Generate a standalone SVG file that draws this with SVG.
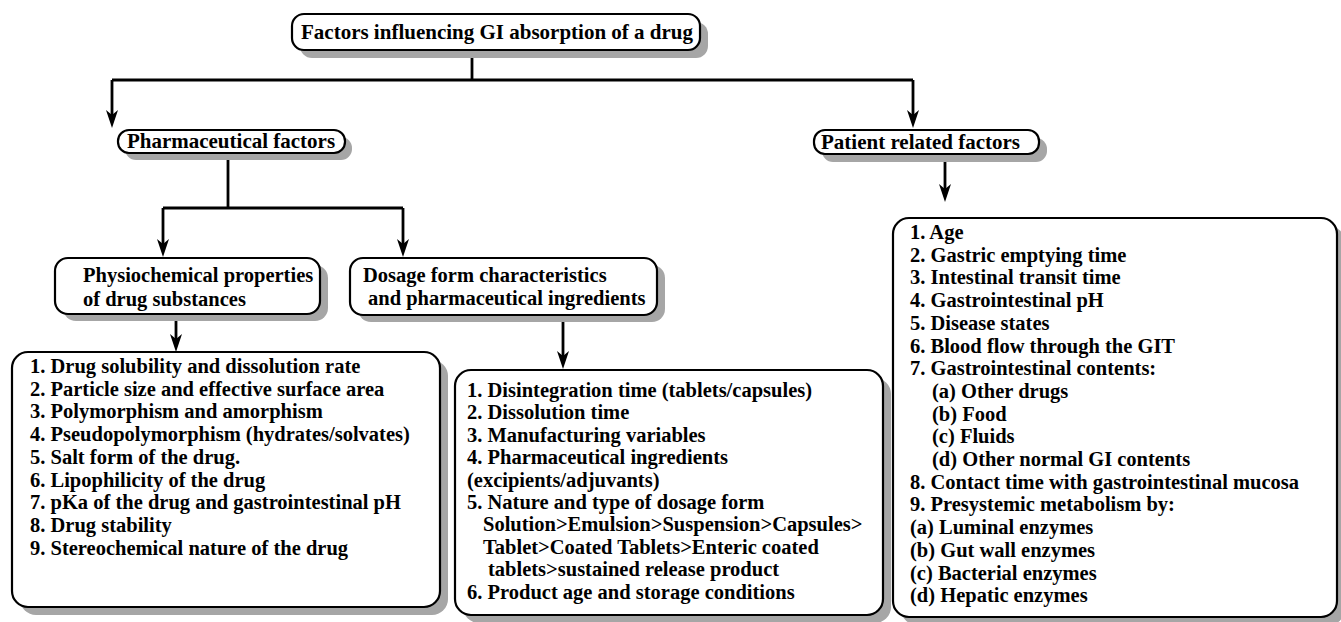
<svg xmlns="http://www.w3.org/2000/svg" width="1341" height="622" viewBox="0 0 1341 622">
  <style>
    .box { fill: #ffffff; stroke: #000000; stroke-width: 2.2; }
    .shadow { fill: #a6a6a6; stroke: none; }
    .wire { fill: none; stroke: #000000; stroke-width: 2.8; }
    text { font-family: "Liberation Serif", "Times New Roman", serif; font-weight: bold; fill: #000000; }
    .head { font-size: 21px; }
    .sub { font-size: 20.5px; }
    .item { font-size: 20.5px; }
  </style>
  <defs>
    <!-- narrow filled arrowhead; the tip sits 13px past the end of the path -->
    <marker id="arrow" viewBox="0 0 18 12" refX="5" refY="6" markerWidth="18" markerHeight="12" markerUnits="userSpaceOnUse" orient="auto">
      <path d="M0,0 L18,6 L0,12 L5,6 Z" fill="#000000"/>
    </marker>
  </defs>

  <rect width="1341" height="622" fill="#ffffff"/>

  <!-- connectors -->
  <g id="connectors">
    <path class="wire" d="M472,50 V80"/>
    <path class="wire" d="M112,80 H913"/>
    <path class="wire" d="M112,80 V115" marker-end="url(#arrow)"/>
    <path class="wire" d="M913,80 V115" marker-end="url(#arrow)"/>
    <path class="wire" d="M228,160 V208"/>
    <path class="wire" d="M163,208 H403"/>
    <path class="wire" d="M163,208 V244" marker-end="url(#arrow)"/>
    <path class="wire" d="M403,208 V244" marker-end="url(#arrow)"/>
    <path class="wire" d="M945,154 V189" marker-end="url(#arrow)"/>
    <path class="wire" d="M176,318 V339" marker-end="url(#arrow)"/>
    <path class="wire" d="M563,320 V356" marker-end="url(#arrow)"/>
  </g>

  <!-- root -->
  <g id="root">
    <rect class="shadow" x="300" y="22" width="408" height="36" rx="12"/>
    <rect class="box" x="292" y="14" width="408" height="36" rx="12"/>
    <text class="head" x="497" y="39" text-anchor="middle">Factors influencing GI absorption of a drug</text>
  </g>

  <!-- pharmaceutical factors -->
  <g id="pharmaceutical">
    <rect class="shadow" x="125" y="137" width="227" height="23" rx="11"/>
    <rect class="box" x="118" y="130" width="227" height="23" rx="11"/>
    <text class="head" x="231" y="148" text-anchor="middle">Pharmaceutical factors</text>
  </g>

  <!-- patient related factors -->
  <g id="patient">
    <rect class="shadow" x="822" y="138" width="225" height="24" rx="11"/>
    <rect class="box" x="814" y="130" width="225" height="24" rx="11"/>
    <text class="head" x="821" y="149">Patient related factors</text>
  </g>

  <!-- physicochemical properties -->
  <g id="physiochemical">
    <rect class="shadow" x="63" y="265" width="265" height="56" rx="13"/>
    <rect class="box" x="55" y="258" width="265" height="56" rx="13"/>
    <text class="sub" x="83" y="282">Physiochemical properties</text>
    <text class="sub" x="83" y="306">of drug substances</text>
  </g>

  <!-- dosage form characteristics -->
  <g id="dosage">
    <rect class="shadow" x="358" y="265" width="307" height="57" rx="13"/>
    <rect class="box" x="350" y="258" width="307" height="57" rx="13"/>
    <text class="sub" x="363" y="282">Dosage form characteristics</text>
    <text class="sub" x="368" y="305">and pharmaceutical ingredients</text>
  </g>

  <!-- physicochemical list -->
  <g id="physiochemical-list">
    <rect class="shadow" x="20" y="360" width="428" height="255" rx="16"/>
    <rect class="box" x="12" y="352" width="428" height="255" rx="16"/>
    <text class="item" x="30" y="373">1. Drug solubility and dissolution rate</text>
    <text class="item" x="30" y="395.7">2. Particle size and effective surface area</text>
    <text class="item" x="30" y="418.4">3. Polymorphism and amorphism</text>
    <text class="item" x="30" y="441.1">4. Pseudopolymorphism (hydrates/solvates)</text>
    <text class="item" x="30" y="463.8">5. Salt form of the drug.</text>
    <text class="item" x="30" y="486.5">6. Lipophilicity of the drug</text>
    <text class="item" x="30" y="509.2">7. pKa of the drug and gastrointestinal pH</text>
    <text class="item" x="30" y="531.9">8. Drug stability</text>
    <text class="item" x="30" y="554.6">9. Stereochemical nature of the drug</text>
  </g>

  <!-- dosage form list -->
  <g id="dosage-list">
    <rect class="shadow" x="463" y="378" width="428" height="245" rx="16"/>
    <rect class="box" x="455" y="370" width="428" height="245" rx="16"/>
    <text class="item" x="467" y="397">1. Disintegration time (tablets/capsules)</text>
    <text class="item" x="467" y="419.4">2. Dissolution time</text>
    <text class="item" x="467" y="441.8">3. Manufacturing variables</text>
    <text class="item" x="467" y="464.2">4. Pharmaceutical ingredients</text>
    <text class="item" x="467" y="486.6">(excipients/adjuvants)</text>
    <text class="item" x="467" y="509">5. Nature and type of dosage form</text>
    <text class="item" x="483" y="531.4">Solution&gt;Emulsion&gt;Suspension&gt;Capsules&gt;</text>
    <text class="item" x="483" y="553.8">Tablet&gt;Coated Tablets&gt;Enteric coated</text>
    <text class="item" x="488" y="576.2">tablets&gt;sustained release product</text>
    <text class="item" x="467" y="598.6">6. Product age and storage conditions</text>
  </g>

  <!-- patient related list -->
  <g id="patient-list">
    <rect class="shadow" x="901" y="226" width="444" height="399" rx="16"/>
    <rect class="box" x="893" y="218" width="444" height="399" rx="16"/>
    <text class="item" x="910" y="239">1. Age</text>
    <text class="item" x="910" y="261.7">2. Gastric emptying time</text>
    <text class="item" x="910" y="284.4">3. Intestinal transit time</text>
    <text class="item" x="910" y="307.1">4. Gastrointestinal pH</text>
    <text class="item" x="910" y="329.8">5. Disease states</text>
    <text class="item" x="910" y="352.5">6. Blood flow through the GIT</text>
    <text class="item" x="910" y="375.2">7. Gastrointestinal contents:</text>
    <text class="item" x="932" y="397.9">(a) Other drugs</text>
    <text class="item" x="932" y="420.6">(b) Food</text>
    <text class="item" x="932" y="443.3">(c)  Fluids</text>
    <text class="item" x="932" y="466">(d) Other normal GI contents</text>
    <text class="item" x="910" y="488.7">8. Contact time with gastrointestinal mucosa</text>
    <text class="item" x="910" y="511.4">9. Presystemic metabolism by:</text>
    <text class="item" x="910" y="534.1">(a) Luminal enzymes</text>
    <text class="item" x="910" y="556.8">(b) Gut wall enzymes</text>
    <text class="item" x="910" y="579.5">(c) Bacterial enzymes</text>
    <text class="item" x="910" y="602.2">(d) Hepatic enzymes</text>
  </g>
</svg>
